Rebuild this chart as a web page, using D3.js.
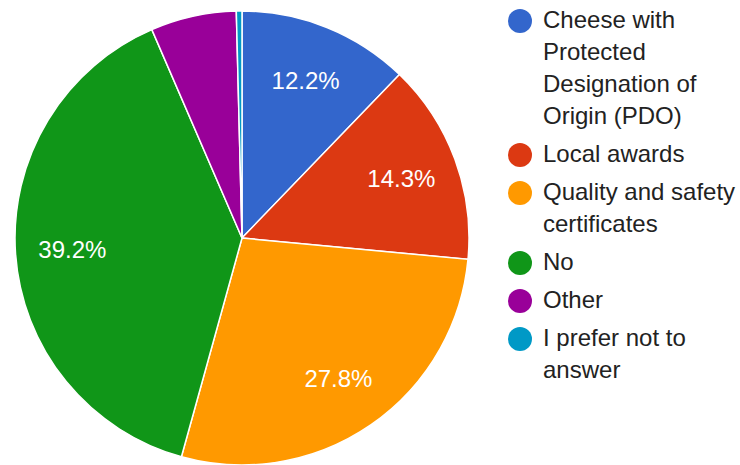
<!DOCTYPE html>
<html>
<head>
<meta charset="utf-8">
<script src="https://cdn.jsdelivr.net/npm/d3@7"></script>
<style>
  html, body { margin: 0; padding: 0; background: #fff; }
  svg { display: block; }
</style>
</head>
<body>
<svg id="chart" width="740" height="465"></svg>
<script>
// Answer categories (legend lines are pre-wrapped)
const categories = [
  "Cheese with Protected Designation of Origin (PDO)",
  "Local awards",
  "Quality and safety certificates",
  "No",
  "Other",
  "I prefer not to answer"
];
const legendLines = [
  ["Cheese with", "Protected", "Designation of", "Origin (PDO)"],
  ["Local awards"],
  ["Quality and safety", "certificates"],
  ["No"],
  ["Other"],
  ["I prefer not to", "answer"]
];
// Share of respondents, percent
const shares = [12.2, 14.3, 27.8, 39.2, 6.1, 0.4];
const colors = ["#3366cc", "#dc3912", "#ff9900", "#109618", "#990099", "#0099c6"];

const svg = d3.select("#chart");
const font = "Arial, 'Liberation Sans', sans-serif";

const cx = 242, cy = 238, radius = 227;

const data = categories.map((c, i) => ({ name: c, value: shares[i], color: colors[i], lines: legendLines[i] }));

const pie = d3.pie().value(d => d.value).sort(null);
const arcs = pie(data);
const arc = d3.arc().innerRadius(0).outerRadius(radius);
const labelArc = d3.arc().innerRadius(170).outerRadius(170);

const g = svg.append("g").attr("transform", `translate(${cx},${cy})`);

g.selectAll("path.slice")
  .data(arcs)
  .join("path")
  .attr("class", "slice")
  .attr("d", arc)
  .attr("fill", d => d.data.color)
  .attr("stroke", "#fff")
  .attr("stroke-width", 1.5);

// Percentage labels on slices wide enough to hold them
g.selectAll("text.pct")
  .data(arcs.filter(d => d.data.value >= 10))
  .join("text")
  .attr("class", "pct")
  .attr("transform", d => `translate(${labelArc.centroid(d)})`)
  .attr("text-anchor", "middle")
  .attr("dominant-baseline", "central")
  .attr("font-family", font)
  .attr("font-size", 24)
  .attr("fill", "#fff")
  .text(d => d.data.value.toFixed(1) + "%");

// Legend
const lineH = 32, gap = 6;
const legend = svg.append("g");
let y = 19;
data.forEach(d => {
  const item = legend.append("g").attr("transform", `translate(0,${y})`);
  item.append("circle")
    .attr("cx", 520).attr("cy", 2).attr("r", 12)
    .attr("fill", d.color);
  const t = item.append("text")
    .attr("font-family", font)
    .attr("font-size", 24)
    .attr("fill", "#222");
  d.lines.forEach((ln, j) => {
    t.append("tspan")
      .attr("x", 543)
      .attr("y", j * lineH)
      .attr("dominant-baseline", "central")
      .text(ln);
  });
  y += d.lines.length * lineH + gap;
});
</script>
</body>
</html>
